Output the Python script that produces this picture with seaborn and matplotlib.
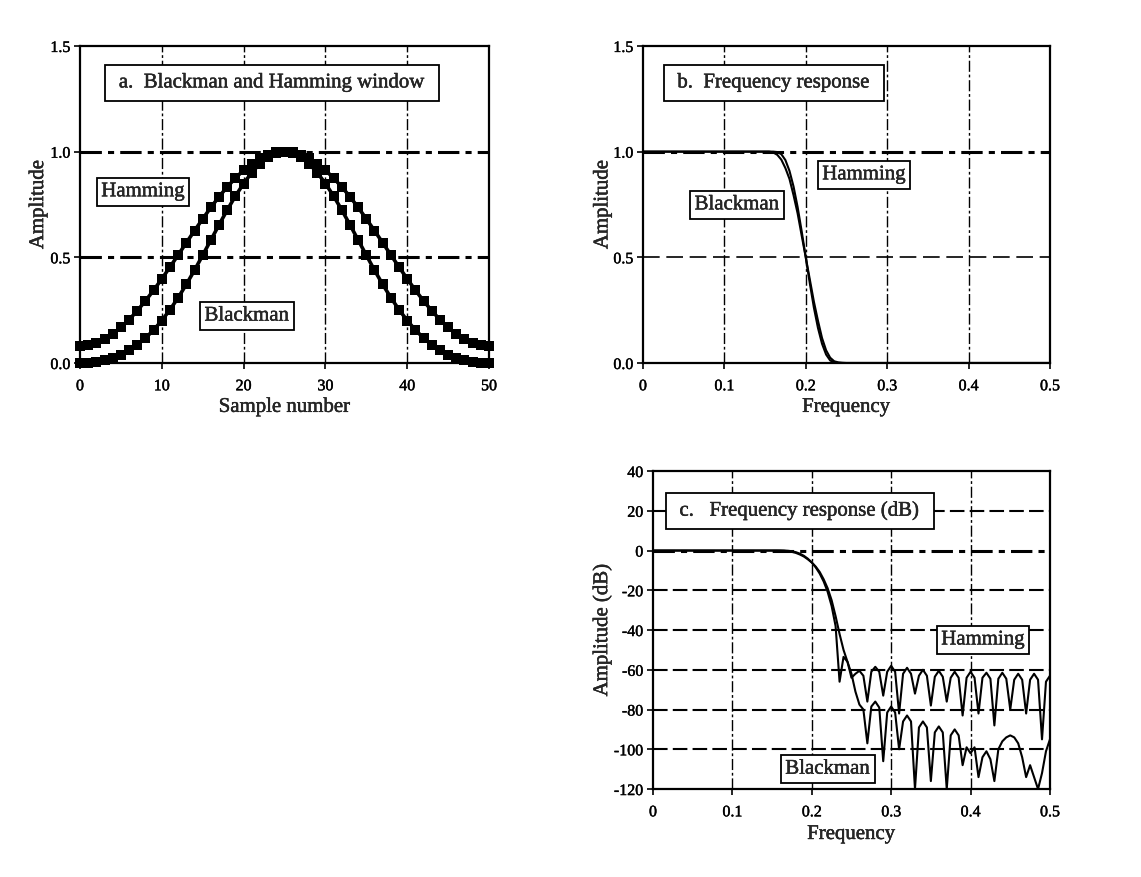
import matplotlib
matplotlib.use("Agg")
import matplotlib.pyplot as plt
import matplotlib.patheffects as pe
import seaborn as sns
import pandas as pd

# ---------------- data ----------------
sample_number = list(range(51))
hamming_window = [0.080, 0.084, 0.095, 0.112, 0.137, 0.168, 0.205, 0.247, 0.294, 0.344,
                  0.398, 0.454, 0.511, 0.569, 0.626, 0.682, 0.736, 0.787, 0.833, 0.875,
                  0.912, 0.943, 0.968, 0.986, 0.996, 1.000, 0.996, 0.986, 0.968, 0.943,
                  0.912, 0.875, 0.833, 0.787, 0.736, 0.682, 0.626, 0.569, 0.511, 0.454,
                  0.398, 0.344, 0.294, 0.247, 0.205, 0.168, 0.137, 0.112, 0.095, 0.084,
                  0.080]
blackman_window = [0.000, 0.001, 0.006, 0.013, 0.025, 0.040, 0.061, 0.086, 0.118, 0.156,
                   0.201, 0.252, 0.309, 0.372, 0.439, 0.510, 0.582, 0.654, 0.724, 0.790,
                   0.849, 0.901, 0.943, 0.974, 0.994, 1.000, 0.994, 0.974, 0.943, 0.901,
                   0.849, 0.790, 0.724, 0.654, 0.582, 0.510, 0.439, 0.372, 0.309, 0.252,
                   0.201, 0.156, 0.118, 0.086, 0.061, 0.040, 0.025, 0.013, 0.006, 0.001,
                   0.000]

freq_lin = [0.0, 0.05, 0.10, 0.15, 0.155, 0.16, 0.165, 0.17, 0.175, 0.18, 0.185, 0.19,
            0.195, 0.20, 0.205, 0.21, 0.215, 0.22, 0.225, 0.23, 0.235, 0.24, 0.245, 0.25,
            0.30, 0.35, 0.40, 0.45, 0.50]
hamming_lin = [1.0, 1.0, 1.0, 1.0, 1.0, 1.0, 0.998, 0.988, 0.960, 0.909, 0.835, 0.738,
               0.623, 0.500, 0.377, 0.262, 0.166, 0.091, 0.040, 0.012, 0.002, 0.0, 0.0, 0.0,
               0.0, 0.0, 0.0, 0.0, 0.0]
blackman_lin = [1.0, 1.0, 1.0, 1.0, 1.0, 0.996, 0.985, 0.962, 0.922, 0.871, 0.794, 0.708,
                0.603, 0.500, 0.395, 0.290, 0.200, 0.118, 0.060, 0.025, 0.008, 0.003, 0.001,
                0.0, 0.0, 0.0, 0.0, 0.0, 0.0]

freq_db = [0.0, 0.05, 0.10,
           0.150, 0.155, 0.160, 0.165, 0.170, 0.175, 0.180, 0.185, 0.190, 0.195,
           0.200, 0.205, 0.210, 0.215, 0.220, 0.225, 0.230, 0.235, 0.240, 0.245,
           0.250, 0.255, 0.260, 0.265, 0.270, 0.275, 0.280, 0.285, 0.290, 0.295,
           0.300, 0.305, 0.310, 0.315, 0.320, 0.325, 0.330, 0.335, 0.340, 0.345,
           0.350, 0.355, 0.360, 0.365, 0.370, 0.375, 0.380, 0.385, 0.390, 0.395,
           0.400, 0.405, 0.410, 0.415, 0.420, 0.425, 0.430, 0.435, 0.440, 0.445,
           0.450, 0.455, 0.460, 0.465, 0.470, 0.475, 0.480, 0.485, 0.490, 0.495,
           0.500]
hamming_db = [0, 0, 0,
              0, 0, 0, -0.01, -0.11, -0.36, -0.83, -1.57, -2.64, -4.1,
              -6.0, -8.5, -11.6, -15.6, -20.8, -27.9, -38, -66, -53.5, -56,
              -64, -62, -60.5, -63, -76, -61, -58.5, -61, -73, -61,
              -58, -61, -82, -62, -59, -62, -72, -63, -60, -63,
              -78, -63.5, -60.5, -63.5, -76, -64, -61, -64, -83, -64,
              -61, -64, -82, -64, -61.5, -64.5, -88, -64.5, -61.5, -64.5,
              -80, -65, -62, -65, -82, -65, -62, -65, -95, -66,
              -63]
blackman_db = [0, 0, 0,
               0, 0, -0.03, -0.13, -0.33, -0.68, -1.2, -2.0, -3.0, -4.4,
               -6.0, -8.1, -10.8, -14.5, -19, -25, -33, -42, -50, -56,
               -62, -71, -77.5, -80, -97, -78.5, -76, -79, -106, -81.5,
               -78.5, -81.5, -100, -86, -83, -86, -120, -89, -86, -89,
               -116, -91.5, -88.5, -91.5, -120, -93, -90, -93, -108, -99,
               -102, -99, -114, -104, -101, -105, -116, -100, -96, -94,
               -93, -94, -97, -104, -114, -108, -114, -120, -112, -101,
               -95]

# ---------------- style ----------------
sns.set_style("ticks")
plt.rcParams["font.family"] = ["Liberation Serif", "DejaVu Serif"]
plt.rcParams["axes.unicode_minus"] = False

fig = plt.figure(figsize=(11.41, 8.77), dpi=100)
ax_a = fig.add_axes([0.0701, 0.5861, 0.3585, 0.3615])
ax_b = fig.add_axes([0.5635, 0.5861, 0.3567, 0.3615])
ax_c = fig.add_axes([0.5723, 0.1003, 0.3479, 0.3626])

TICK_FS = 11.5
LABEL_FS = 15
BOX_FS = 15
HEAVY = [pe.withStroke(linewidth=0.3, foreground="black")]


def frame(ax):
    for s in ax.spines.values():
        s.set_visible(True)
        s.set_linewidth(1.6)
        s.set_color("black")
        s.set_zorder(5)
    ax.tick_params(direction="out", length=4, width=1.2, labelsize=TICK_FS,
                   colors="black")
    ax.tick_params(axis="x", pad=7)
    ax.tick_params(axis="y", pad=3)
    for t in ax.get_xticklabels() + ax.get_yticklabels():
        t.set_path_effects(HEAVY)
    ax.xaxis.label.set_path_effects(HEAVY)
    ax.yaxis.label.set_path_effects(HEAVY)


def vgrid(ax, xs):
    for x in xs:
        ax.axvline(x, color="black", lw=1.0, dashes=(8, 2, 2, 2), zorder=1)


def box(ax, x, y, s, pad=0.22):
    ax.text(x, y, s, ha="center", va="center", fontsize=BOX_FS, zorder=6,
            path_effects=HEAVY,
            bbox=dict(boxstyle="square,pad=%g" % pad, fc="white", ec="black", lw=1.3))


# ---------------- panel a ----------------
win = pd.DataFrame({"n": sample_number, "Hamming": hamming_window,
                    "Blackman": blackman_window})
vgrid(ax_a, [10, 20, 30, 40])
for yv in [0.5, 1.0]:
    ax_a.axhline(yv, color="black", lw=2.2, dashes=(7, 2, 2, 2), zorder=1)
for col in ["Hamming", "Blackman"]:
    sns.lineplot(data=win, x="n", y=col, ax=ax_a, color="black", lw=2.6,
                 marker="s", markersize=6.5, markeredgewidth=0, clip_on=False, zorder=4)
ax_a.set_xlim(0, 50)
ax_a.set_ylim(0, 1.5)
ax_a.set_xticks([0, 10, 20, 30, 40, 50])
ax_a.set_yticks([0.0, 0.5, 1.0, 1.5])
ax_a.set_yticklabels(["0.0", "0.5", "1.0", "1.5"])
ax_a.set_xlabel("Sample number", fontsize=LABEL_FS)
ax_a.set_ylabel("Amplitude", fontsize=LABEL_FS)
ax_a.xaxis.set_label_coords(0.5, -0.11)
ax_a.yaxis.set_label_coords(-0.078, 0.5)
frame(ax_a)
box(ax_a, 23.5, 1.325, " a.  Blackman and Hamming window ", pad=0.4)
box(ax_a, 7.7, 0.81, "Hamming")
box(ax_a, 20.4, 0.222, "Blackman")

# ---------------- panel b ----------------
lin = pd.DataFrame({"f": freq_lin, "Hamming": hamming_lin, "Blackman": blackman_lin})
vgrid(ax_b, [0.1, 0.2, 0.3, 0.4])
ax_b.axhline(1.0, color="black", lw=2.2, dashes=(7, 2, 2, 2), zorder=1)
ax_b.axhline(0.5, color="black", lw=1.2, dashes=(10, 4), zorder=1)
for col in ["Hamming", "Blackman"]:
    sns.lineplot(data=lin, x="f", y=col, ax=ax_b, color="black", lw=1.5, zorder=4)
ax_b.set_xlim(0, 0.5)
ax_b.set_ylim(0, 1.5)
ax_b.set_xticks([0, 0.1, 0.2, 0.3, 0.4, 0.5])
ax_b.set_xticklabels(["0", "0.1", "0.2", "0.3", "0.4", "0.5"])
ax_b.set_yticks([0.0, 0.5, 1.0, 1.5])
ax_b.set_yticklabels(["0.0", "0.5", "1.0", "1.5"])
ax_b.set_xlabel("Frequency", fontsize=LABEL_FS)
ax_b.set_ylabel("Amplitude", fontsize=LABEL_FS)
ax_b.xaxis.set_label_coords(0.5, -0.11)
ax_b.yaxis.set_label_coords(-0.075, 0.5)
frame(ax_b)
box(ax_b, 0.161, 1.325, " b.  Frequency response ", pad=0.4)
box(ax_b, 0.2715, 0.89, "Hamming")
box(ax_b, 0.1155, 0.748, "Blackman")

# ---------------- panel c ----------------
dbf = pd.DataFrame({"f": freq_db, "Hamming": hamming_db, "Blackman": blackman_db})
vgrid(ax_c, [0.1, 0.2, 0.3, 0.4])
for yv in [20, -20, -40, -60, -80, -100]:
    ax_c.axhline(yv, color="black", lw=1.5, dashes=(7, 2.5), zorder=1)
ax_c.axhline(0, color="black", lw=2.2, dashes=(7, 2, 2, 2), zorder=1)
for col in ["Hamming", "Blackman"]:
    sns.lineplot(data=dbf, x="f", y=col, ax=ax_c, color="black", lw=1.5, zorder=4)
ax_c.set_xlim(0, 0.5)
ax_c.set_ylim(-120, 40)
ax_c.set_xticks([0, 0.1, 0.2, 0.3, 0.4, 0.5])
ax_c.set_xticklabels(["0", "0.1", "0.2", "0.3", "0.4", "0.5"])
ax_c.set_yticks([40, 20, 0, -20, -40, -60, -80, -100, -120])
ax_c.set_xlabel("Frequency", fontsize=LABEL_FS)
ax_c.set_ylabel("Amplitude (dB)", fontsize=LABEL_FS)
ax_c.xaxis.set_label_coords(0.5, -0.113)
ax_c.yaxis.set_label_coords(-0.103, 0.5)
frame(ax_c)
box(ax_c, 0.185, 20, " c.   Frequency response (dB) ", pad=0.4)
box(ax_c, 0.4156, -45, "Hamming")
box(ax_c, 0.22, -110, "Blackman")

fig.savefig("out.png", dpi=100, facecolor="white")
